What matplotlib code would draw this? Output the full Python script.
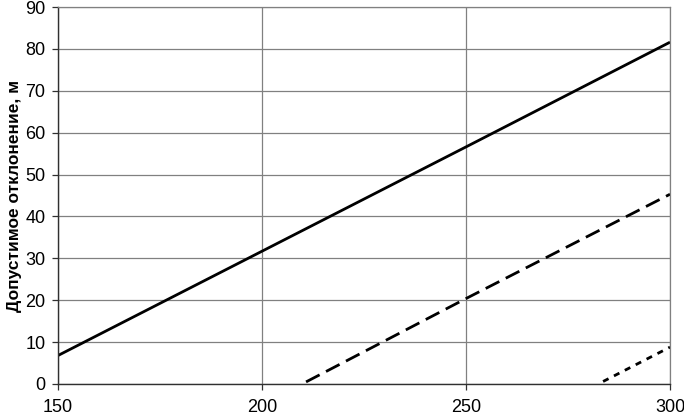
import matplotlib.pyplot as plt

plt.rcParams['font.family'] = ['Liberation Sans', 'DejaVu Sans']

# data
x_solid = [150, 200, 250, 300]
y_solid = [6.8, 31.7, 56.6, 81.6]

x_dash = [210.8, 250, 300]
y_dash = [0.5, 20.4, 45.3]

x_short = [283.6, 300]
y_short = [0.6, 8.8]

x_ticks = [150, 200, 250, 300]
y_ticks = list(range(0, 100, 10))

fig = plt.figure(figsize=(6.84, 4.16), dpi=100)
ax = fig.add_axes([58 / 684, 32 / 416, 612 / 684, 377 / 416])

ax.plot(x_solid, y_solid, color='black', linewidth=2.0, solid_capstyle='butt')
ax.plot(x_dash, y_dash, color='black', linewidth=2.0, dashes=(5.5, 2.6), dash_capstyle='butt')
ax.plot(x_short, y_short, color='black', linewidth=2.0, dashes=(2.2, 2.2), dash_capstyle='butt')

ax.set_xlim(150, 300)
ax.set_ylim(0, 90)
ax.set_xticks(x_ticks)
ax.set_yticks(y_ticks)
ax.grid(True, color='#808080', linewidth=0.9)
ax.set_axisbelow(True)

for s in ['top', 'right']:
    ax.spines[s].set_color('#808080')
    ax.spines[s].set_linewidth(0.9)
for s in ['left', 'bottom']:
    ax.spines[s].set_color('#303030')
    ax.spines[s].set_linewidth(1.0)

ax.tick_params(axis='both', direction='out', length=4, width=0.9, color='#303030',
               labelsize=13, pad=5)
ax.tick_params(axis='x', pad=7)

ax.set_ylabel('Допустимое отклонение, м', fontsize=12.5, fontweight='bold', labelpad=2)

fig.savefig('out.png', dpi=100)
